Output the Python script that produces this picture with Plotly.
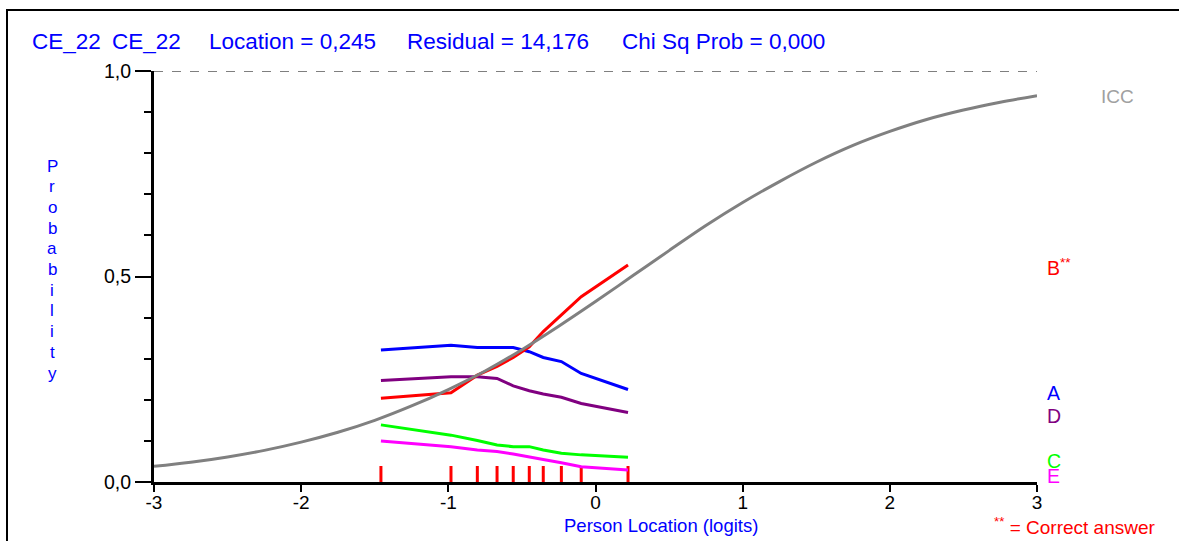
import plotly.graph_objects as go

# ---------------- data ----------------
class_x = [-1.458, -0.982, -0.803, -0.669, -0.559, -0.450, -0.355, -0.232, -0.097, 0.221]

opt_A = [0.321, 0.333, 0.327, 0.327, 0.327, 0.317, 0.303, 0.293, 0.264, 0.225]
opt_B = [0.204, 0.217, 0.260, 0.281, 0.303, 0.329, 0.366, 0.406, 0.451, 0.528]
opt_C = [0.139, 0.114, 0.101, 0.090, 0.086, 0.086, 0.078, 0.070, 0.066, 0.060]
opt_D = [0.247, 0.256, 0.256, 0.252, 0.234, 0.222, 0.214, 0.206, 0.191, 0.169]
opt_E = [0.100, 0.086, 0.078, 0.074, 0.068, 0.062, 0.055, 0.047, 0.037, 0.029]

icc_x = [-3, -2.75, -2.5, -2.25, -2, -1.75, -1.5, -1.25, -1, -0.75, -0.5, -0.25,
         0, 0.25, 0.5, 0.75, 1, 1.25, 1.5, 1.75, 2, 2.25, 2.5, 2.75, 3]
icc_y = [0.038, 0.048, 0.061, 0.077, 0.097, 0.121, 0.150, 0.185, 0.225, 0.270,
         0.322, 0.379, 0.439, 0.501, 0.563, 0.624, 0.680, 0.731, 0.778, 0.819,
         0.853, 0.882, 0.905, 0.924, 0.940]

option_names = ["A", "B", "C", "D", "E"]
option_colors = ["#0000FF", "#FF0000", "#00FF00", "#800080", "#FF00FF"]
option_values = [opt_A, opt_B, opt_C, opt_D, opt_E]
option_label_text = ["A", "B<sup>**</sup>", "C", "D", "E"]

x_ticks = [-3, -2, -1, 0, 1, 2, 3]
x_ticklabels = ["-3", "-2", "-1", "0", "1", "2", "3"]
y_ticks = [0.0, 0.5, 1.0]
y_ticklabels = ["0,0", "0,5", "1,0"]
y_minor = [0.1, 0.2, 0.3, 0.4, 0.6, 0.7, 0.8, 0.9]

title_parts = ["CE_22", "CE_22", "Location = 0,245", "Residual = 14,176", "Chi Sq Prob = 0,000"]
y_title = "Probability"
x_title = "Person Location (logits)"
marker_height = 0.039

# ---------------- layout helpers (pixel -> paper) ----------------
W, H = 1179, 541
PL, PR, PT, PB = 154, 1037, 71, 482
def xp(px):
    return (px - PL) / (PR - PL)
def yp(py):
    return (PB - py) / (PB - PT)

FONT = "Liberation Sans"
fig = go.Figure()

# class-interval markers
mx, my = [], []
for v in class_x:
    mx += [v, v, None]
    my += [0, marker_height, None]
fig.add_trace(go.Scatter(x=mx, y=my, mode="lines",
                         line=dict(color="#FF0000", width=3), hoverinfo="skip"))

# option curves (draw B after others)
order = [0, 3, 2, 4, 1]
for i in order:
    fig.add_trace(go.Scatter(x=class_x, y=option_values[i], mode="lines",
                             line=dict(color=option_colors[i], width=3),
                             name=option_names[i]))

# ICC
fig.add_trace(go.Scatter(x=icc_x, y=icc_y, mode="lines",
                         line=dict(color="#808080", width=3, shape="spline"),
                         name="ICC"))

shapes = [
    dict(type="line", xref="x", yref="y", x0=-3, x1=3, y0=1, y1=1,
         line=dict(color="black", width=1, dash="dash")),
    dict(type="line", xref="paper", yref="paper", x0=xp(6), x1=xp(1179), y0=yp(10), y1=yp(10),
         line=dict(color="black", width=2)),
    dict(type="line", xref="paper", yref="paper", x0=xp(7), x1=xp(7), y0=yp(10), y1=yp(541),
         line=dict(color="black", width=2)),
]

annotations = []
title_px = [30, 110, 207, 405, 620]
for t, x0 in zip(title_parts, title_px):
    annotations.append(dict(text=t, xref="paper", yref="paper", x=xp(x0), y=yp(41),
                            xanchor="left", yanchor="middle", showarrow=False,
                            font=dict(family=FONT, size=22.5, color="#0000FF")))

for k, ch in enumerate(y_title):
    annotations.append(dict(text=ch, xref="paper", yref="paper", x=xp(52), y=yp(166 + k * 20.7),
                            xanchor="center", yanchor="middle", showarrow=False,
                            font=dict(family=FONT, size=17, color="#0000FF")))

annotations.append(dict(text=x_title, xref="paper", yref="paper", x=xp(661), y=yp(525),
                        xanchor="center", yanchor="middle", showarrow=False,
                        font=dict(family=FONT, size=18.5, color="#0000FF")))

annotations.append(dict(text="ICC", xref="paper", yref="paper", x=xp(1099), y=yp(96),
                        xanchor="left", yanchor="middle", showarrow=False,
                        font=dict(family=FONT, size=19, color="#A0A0A0")))

label_py = {"A": 393, "B": 267, "C": 461, "D": 416, "E": 476}
for name, txt, col in zip(option_names, option_label_text, option_colors):
    annotations.append(dict(text=txt, xref="paper", yref="paper", x=xp(1045), y=yp(label_py[name]),
                            xanchor="left", yanchor="middle", showarrow=False,
                            font=dict(family=FONT, size=19.5, color=col)))

annotations.append(dict(text="<sup>**</sup> = Correct answer", xref="paper", yref="paper",
                        x=xp(992), y=yp(526), xanchor="left", yanchor="middle", showarrow=False,
                        font=dict(family=FONT, size=19, color="#FF0000")))

fig.update_layout(
    width=W, height=H, autosize=False,
    margin=dict(l=PL, r=W - PR, t=PT, b=H - PB, pad=0),
    paper_bgcolor="white", plot_bgcolor="white",
    showlegend=False,
    shapes=shapes, annotations=annotations,
    font=dict(family=FONT, color="black"),
)
fig.update_xaxes(range=[-3, 3], showgrid=False, zeroline=False,
                 showline=True, linecolor="black", linewidth=3,
                 ticks="outside", ticklen=7, tickwidth=2, tickcolor="black",
                 tickvals=x_ticks, ticktext=x_ticklabels, ticklabelstandoff=-6,
                 tickfont=dict(family=FONT, size=19, color="black"))
fig.update_yaxes(range=[0, 1], showgrid=False, zeroline=False,
                 showline=True, linecolor="black", linewidth=3,
                 ticks="outside", ticklen=16, tickwidth=2, tickcolor="black",
                 tickvals=y_ticks, ticktext=y_ticklabels,
                 tickfont=dict(family=FONT, size=19.5, color="black"),
                 minor=dict(tickvals=y_minor, ticks="outside", ticklen=7,
                            tickwidth=2, tickcolor="black", showgrid=False))

fig.write_html("out.html")
